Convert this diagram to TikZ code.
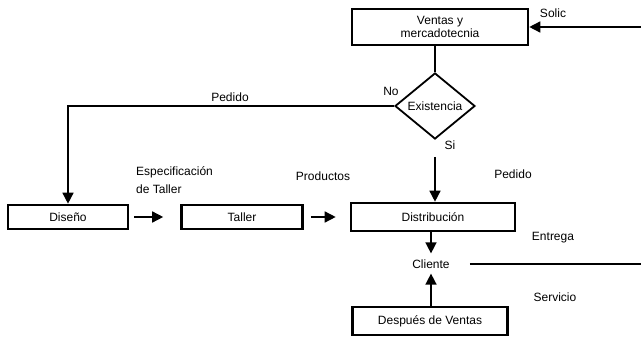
\documentclass[tikz,border=0pt]{standalone}
\usepackage{fontspec}
\setmainfont{Liberation Sans}
\usetikzlibrary{shapes.geometric,arrows.meta}
\begin{document}
\begin{tikzpicture}[x=1pt,y=-1pt,
  font=\fontsize{12}{13.5}\selectfont,
  box/.style={draw,line width=2.6pt,inner sep=0pt,align=center},
  lbl/.style={inner sep=0pt},
  conn/.style={line width=1.5pt},
  arr/.style={conn,-{Triangle[length=11pt,width=11pt]}}]
\useasboundingbox (0,0) rectangle (641,363);
% nodes
\node[box,minimum width=176pt,minimum height=36pt] (ven) at (440,27) {Ventas y\\mercadotecnia};
\node[draw,diamond,line width=1.8pt,inner sep=0pt,minimum width=80pt,minimum height=66pt] (dia) at (435,106) {Existencia};
\node[box,minimum width=120pt,minimum height=24pt] (dis) at (68,217) {Diseño};
\node[box,minimum width=121pt,minimum height=24pt] (tal) at (242,217) {Taller};
\node[box,minimum width=164pt,minimum height=28pt] (dist) at (433,217) {Distribución};
\node[lbl] (cli) at (431,264) {Cliente};
\node[box,minimum width=155pt,minimum height=28pt] (desp) at (430,321) {Después de Ventas};
\coordinate (solic) at (641,27);
\coordinate (ent) at (641,264);
% connectors
\draw[arr] (solic) -- (ven.east);
\draw[conn] (dia.north |- ven.south) -- (dia.north);
\draw[arr] (dia.west) -| (dis.north);
\draw[arr,shorten <=17pt] (dia.south) -- (dia.south |- dist.north);
\draw[arr,shorten <=5pt,shorten >=17pt] (dis.east) -- (tal.west);
\draw[arr,shorten <=7pt,shorten >=14pt] (tal.east) -- (dist.west);
\draw[arr,shorten >=6pt] (cli.north |- dist.south) -- (cli.north);
\draw[arr,shorten >=5pt] (cli.south |- desp.north) -- (cli.south);
\draw[conn,shorten <=20pt] (cli.east) -- (ent);
% labels
\node[lbl] (lsolic) at (553,13) {Solic};
\node[lbl] (lped1) at (230,97) {Pedido};
\node[lbl] (lno) at (391,91) {No};
\node[lbl] (lsi) at (450,145) {Si};
\node[lbl,anchor=west] (lesp) at (136,172) {Especificación};
\node[lbl,anchor=west] (ltal) at (136,189) {de Taller};
\node[lbl] (lprod) at (323,176) {Productos};
\node[lbl] (lped2) at (513,174) {Pedido};
\node[lbl] (lent) at (553,238) {Entrega};
\node[lbl] (lserv) at (555,297) {Servicio};
\end{tikzpicture}
\end{document}
